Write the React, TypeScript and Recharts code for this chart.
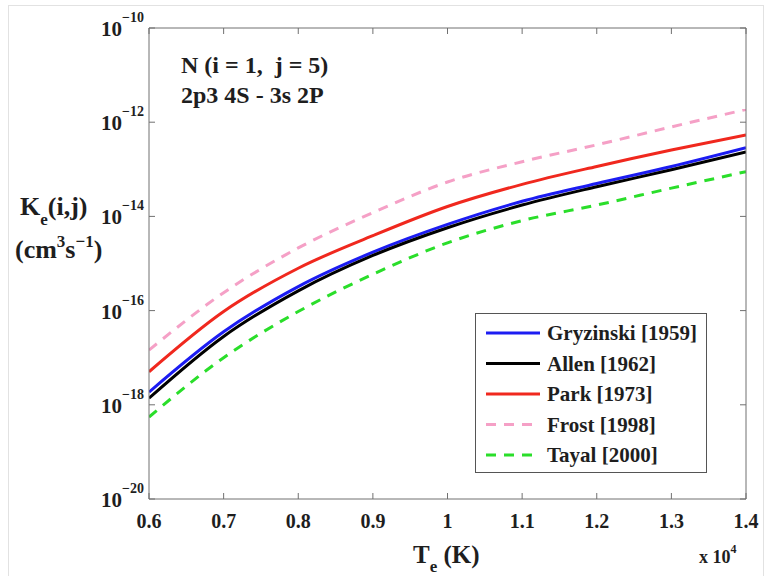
import React from 'react';
import { LineChart, Line, XAxis, YAxis, Legend } from 'recharts';

// electron temperature (x 10^4 K)
const temps = [0.6, 0.7, 0.8, 0.9, 1.0, 1.1, 1.2, 1.3, 1.4];

// rate coefficients, cm^3 s^-1
const gryzinski = [1.86e-18, 3.55e-17, 3.24e-16, 1.74e-15, 6.76e-15, 2.09e-14, 5.01e-14, 1.15e-13, 2.88e-13];
const allen = [1.38e-18, 2.82e-17, 2.63e-16, 1.48e-15, 5.75e-15, 1.74e-14, 4.27e-14, 9.77e-14, 2.34e-13];
const park = [5.01e-18, 9.55e-17, 7.94e-16, 3.89e-15, 1.62e-14, 4.79e-14, 1.15e-13, 2.57e-13, 5.37e-13];
const frost = [1.45e-17, 2.4e-16, 2.14e-15, 1.2e-14, 5.37e-14, 1.45e-13, 3.31e-13, 7.94e-13, 1.86e-12];
const tayal = [5.5e-19, 1.0e-17, 9.55e-17, 5.89e-16, 2.75e-15, 8.13e-15, 1.74e-14, 3.98e-14, 8.91e-14];

const xTicks = [0.6, 0.7, 0.8, 0.9, 1, 1.1, 1.2, 1.3, 1.4];
const yTicks = [1e-20, 1e-18, 1e-16, 1e-14, 1e-12, 1e-10];
const yTickExps = ['−20', '−18', '−16', '−14', '−12', '−10'];

const series = [
  { key: 'gryzinski', name: 'Gryzinski [1959]', color: '#1c1cf2', dash: undefined as string | undefined },
  { key: 'allen', name: 'Allen [1962]', color: '#000000', dash: undefined },
  { key: 'park', name: 'Park [1973]', color: '#f0281e', dash: undefined },
  { key: 'frost', name: 'Frost [1998]', color: '#f5a0c6', dash: '10 8' },
  { key: 'tayal', name: 'Tayal [2000]', color: '#2ade2a', dash: '10 8' },
];

const data = temps.map((t, i) => ({
  t,
  gryzinski: gryzinski[i],
  allen: allen[i],
  park: park[i],
  frost: frost[i],
  tayal: tayal[i],
}));

const AXIS = '#707070';
const INK = '#1e1e1e';
const FONT = '"Liberation Serif", "Times New Roman", serif';

// plot box edges in chart pixels
const TOP = 28;
const BOTTOM = 499;
const LEFT = 149;
const RIGHT = 746;

const BottomTick = (props: any) => {
  const { x, payload } = props;
  return (
    <g>
      <line x1={x} y1={BOTTOM} x2={x} y2={BOTTOM - 6} stroke={AXIS} />
      <text x={x} y={BOTTOM + 29} textAnchor="middle" fontFamily={FONT} fontWeight="bold" fontSize={20} fill={INK}>
        {String(payload.value)}
      </text>
    </g>
  );
};

const TopTick = (props: any) => {
  const { x } = props;
  return <line x1={x} y1={TOP} x2={x} y2={TOP + 6} stroke={AXIS} />;
};

const LeftTick = (props: any) => {
  const { y, index } = props;
  const exp = yTickExps[index] ?? '';
  return (
    <g>
      <line x1={LEFT} y1={y} x2={LEFT + 6} y2={y} stroke={AXIS} />
      <text x={LEFT - 5} y={y + 8} textAnchor="end" fontFamily={FONT} fontWeight="bold" fill={INK}>
        <tspan fontSize={21}>10</tspan>
        <tspan fontSize={14} dy={-14}>{exp}</tspan>
      </text>
    </g>
  );
};

const RightTick = (props: any) => {
  const { y } = props;
  return <line x1={RIGHT} y1={y} x2={RIGHT - 6} y2={y} stroke={AXIS} />;
};

const Titles = () => (
  <g>
    <text x={181} y={73} fontSize={24} fontFamily={FONT} fontWeight="bold" fill={INK} xmlSpace="preserve">
      N (i = 1,  j = 5)
    </text>
    <text x={181} y={103} fontSize={24} fontFamily={FONT} fontWeight="bold" fill={INK}>
      2p3 4S - 3s 2P
    </text>
    <text x={20} y={215} fontSize={26} fontFamily={FONT} fontWeight="bold" fill={INK}>
      <tspan>K</tspan>
      <tspan fontSize={17} dy={10}>e</tspan>
      <tspan dy={-10}>(i,j)</tspan>
    </text>
    <text x={15} y={258} fontSize={26} fontFamily={FONT} fontWeight="bold" fill={INK}>
      <tspan>(cm</tspan>
      <tspan fontSize={17} dy={-11}>3</tspan>
      <tspan dy={11}>s</tspan>
      <tspan fontSize={17} dy={-11}>−1</tspan>
      <tspan dy={11}>)</tspan>
    </text>
    <text x={413} y={563} fontSize={25} fontFamily={FONT} fontWeight="bold" fill={INK}>
      <tspan>T</tspan>
      <tspan fontSize={17} dy={9}>e</tspan>
      <tspan dy={-9}> (K)</tspan>
    </text>
    <text x={699} y={563} fontSize={18} fontFamily={FONT} fontWeight="bold" fill={INK}>
      <tspan>x 10</tspan>
      <tspan fontSize={12} dy={-10}>4</tspan>
    </text>
  </g>
);

const LegendBox = () => (
  <div style={{ width: 232, height: 160, border: '1px solid #555', background: '#fff', boxSizing: 'border-box' }}>
    <svg width={230} height={158}>
      {series.map((s, i) => {
        const cy = 19 + i * 30.5;
        return (
          <g key={s.key}>
            <line x1={10} y1={cy} x2={64} y2={cy} stroke={s.color} strokeWidth={3} strokeDasharray={s.dash} />
            <text x={71} y={cy + 7} fontFamily={FONT} fontWeight="bold" fontSize={21} fill={INK}>
              {s.name}
            </text>
          </g>
        );
      })}
    </svg>
  </div>
);

export default function App() {
  return (
    <div style={{ position: 'absolute', left: 0, top: 0, width: 771, height: 576, background: '#fff' }}>
      <div
        style={{
          position: 'absolute',
          left: 8,
          top: 5,
          width: 754,
          height: 580,
          borderLeft: '1px solid #e2e2e2',
          borderTop: '1px solid #e2e2e2',
          borderRight: '1px solid #e2e2e2',
        }}
      />
      <LineChart
        width={771}
        height={576}
        data={data}
        margin={{ top: TOP - 10, right: 771 - RIGHT - 10, bottom: 576 - BOTTOM - 40, left: LEFT - 60 }}
        style={{ position: 'absolute', left: 0, top: 0 }}
      >
        <XAxis
          dataKey="t"
          type="number"
          domain={[0.6, 1.4]}
          ticks={xTicks}
          allowDataOverflow
          height={40}
          tickLine={false}
          axisLine={{ stroke: AXIS }}
          tick={<BottomTick />}
          interval={0}
          label={{ content: () => <Titles /> }}
        />
        <XAxis
          xAxisId="top"
          orientation="top"
          dataKey="t"
          type="number"
          domain={[0.6, 1.4]}
          ticks={xTicks}
          allowDataOverflow
          height={10}
          tickLine={false}
          axisLine={{ stroke: AXIS }}
          tick={<TopTick />}
          interval={0}
        />
        <YAxis
          scale="log"
          type="number"
          domain={[1e-20, 1e-10]}
          ticks={yTicks}
          allowDataOverflow
          width={60}
          tickLine={false}
          axisLine={{ stroke: AXIS }}
          tick={<LeftTick />}
          interval={0}
        />
        <YAxis
          yAxisId="right"
          orientation="right"
          scale="log"
          type="number"
          domain={[1e-20, 1e-10]}
          ticks={yTicks}
          allowDataOverflow
          width={10}
          tickLine={false}
          axisLine={{ stroke: AXIS }}
          tick={<RightTick />}
          interval={0}
        />
        {series.map((s) => (
          <Line
            key={s.key}
            dataKey={s.key}
            name={s.name}
            type="monotone"
            stroke={s.color}
            strokeWidth={3}
            strokeDasharray={s.dash}
            dot={false}
            activeDot={false}
            isAnimationActive={false}
          />
        ))}
        <Legend
          layout="vertical"
          align="center"
          verticalAlign="middle"
          content={() => <LegendBox />}
          wrapperStyle={{ position: 'absolute', left: 475, top: 313, width: 232, height: 160 }}
        />
      </LineChart>
    </div>
  );
}
